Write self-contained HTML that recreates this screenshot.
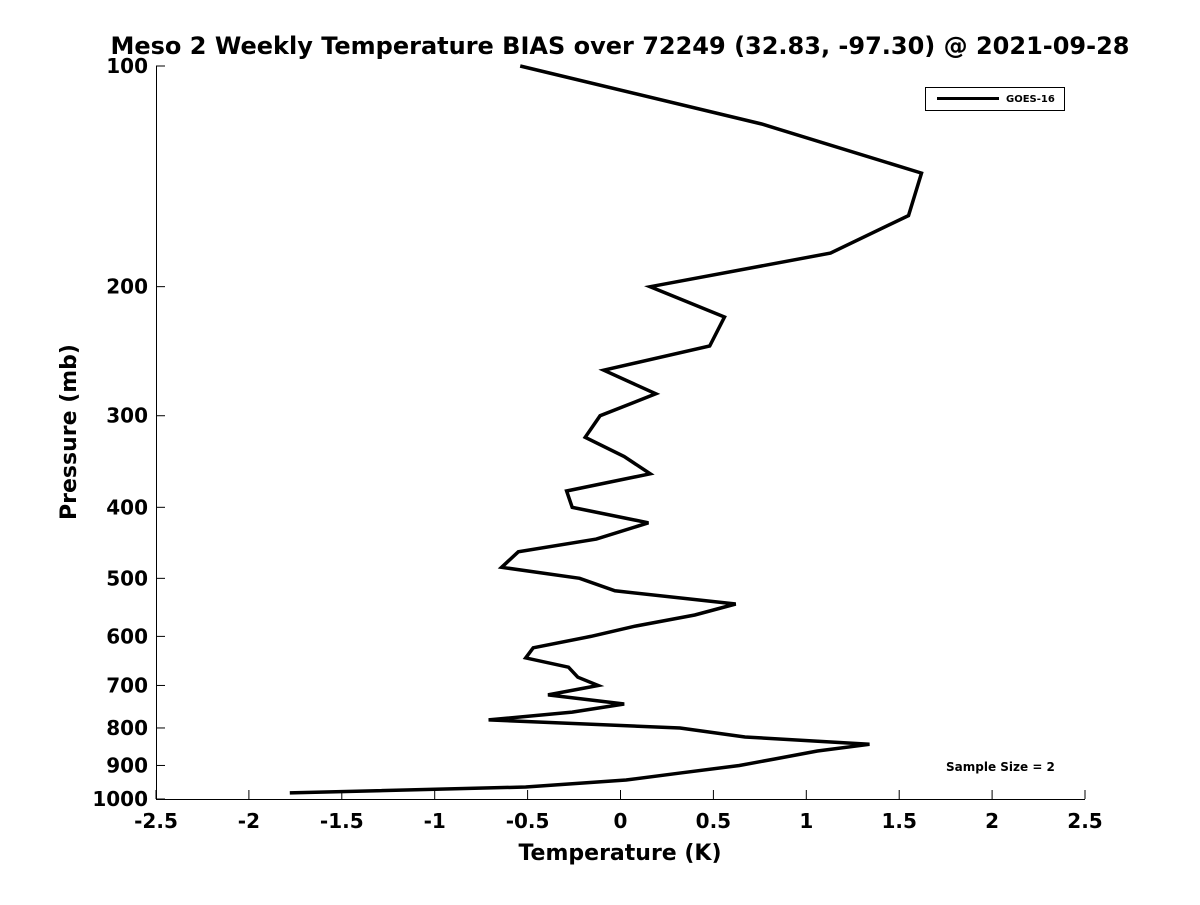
<!DOCTYPE html>
<html><head><meta charset="utf-8"><style>
body{margin:0;background:#fff;}
text{font-family:"DejaVu Sans","Liberation Sans",sans-serif;font-weight:bold;}
</style></head><body>
<svg id="chart" width="1200" height="900" xmlns="http://www.w3.org/2000/svg">
<text x="620" y="54" font-size="24" text-anchor="middle">Meso 2 Weekly Temperature BIAS over 72249 (32.83, -97.30) @ 2021-09-28</text>
<g id="axes"></g>
<polyline id="series" fill="none" stroke="#000" stroke-width="3.5" stroke-linejoin="miter"/>
<g>
<rect x="925.5" y="87.5" width="139" height="23" fill="#fff" stroke="#000" stroke-width="1"/>
<line x1="937" y1="98.5" x2="999" y2="98.5" stroke="#000" stroke-width="3"/>
<text x="1006" y="102" font-size="10">GOES-16</text>
</g>
<text x="946" y="771" font-size="12">Sample Size = 2</text>
<text x="620" y="860" font-size="22" text-anchor="middle">Temperature (K)</text>
<text transform="translate(76,432) rotate(-90)" font-size="22" text-anchor="middle">Pressure (mb)</text>
</svg>
<script>
const temps=[-0.54,0.76,1.62,1.55,1.13,0.16,0.56,0.48,-0.09,0.19,-0.11,-0.19,0.02,0.16,-0.29,-0.26,0.15,-0.13,-0.55,-0.64,-0.22,-0.03,0.62,0.40,0.08,-0.16,-0.47,-0.51,-0.28,-0.23,-0.12,-0.39,0.02,-0.26,-0.71,0.32,0.67,1.34,1.06,0.83,0.64,0.33,0.03,-0.51,-1.78];
const pressures=[100,120,140,160,180,200,220,241,260,280,300,321,341,360,380,400,420,442,460,483,500,520,542,561,581,600,622,642,661,682,700,721,742,761,780,800,823,842,860,882,900,921,942,963,981];
const xTicks=[-2.5,-2,-1.5,-1,-0.5,0,0.5,1,1.5,2,2.5];
const yTicks=[100,200,300,400,500,600,700,800,900,1000];
const L=156,R=1085,T=66,B=799;
const xs=v=>L+(v+2.5)/5*(R-L);
const ys=p=>T+Math.log10(p/100)*(B-T);
const NS="http://www.w3.org/2000/svg";
const ax=document.getElementById('axes');
function mk(tag,attrs){const e=document.createElementNS(NS,tag);for(const k in attrs)e.setAttribute(k,attrs[k]);ax.appendChild(e);return e;}
const xl=mk('line',{x1:L,y1:B+0.5,x2:R,y2:B+0.5,stroke:'#000','stroke-width':1});


const yl=mk('line',{x1:L+0.5,y1:T,x2:L+0.5,y2:B,stroke:'#000','stroke-width':1});


xTicks.forEach(t=>{const x=xs(t);
mk('line',{x1:x,y1:B,x2:x,y2:B-9,stroke:'#000'});
const tx=mk('text',{x:x,y:B+29,'font-size':20,'text-anchor':'middle'});tx.textContent=String(t);

});
yTicks.forEach(t=>{const y=ys(t);
mk('line',{x1:L,y1:y,x2:L+9,y2:y,stroke:'#000'});
const tx=mk('text',{x:L-8,y:y+7,'font-size':20,'text-anchor':'end'});tx.textContent=String(t);

});
document.getElementById('series').setAttribute('points',temps.map((v,i)=>xs(v).toFixed(1)+','+ys(pressures[i]).toFixed(1)).join(' '));
</script>
</body></html>
